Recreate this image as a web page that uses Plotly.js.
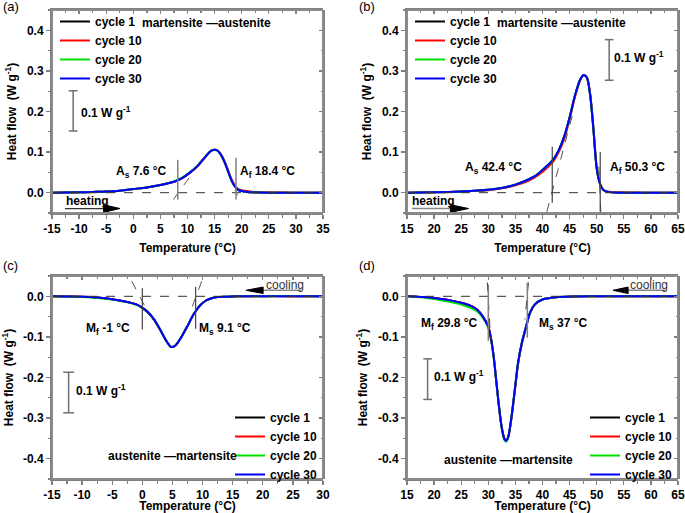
<!DOCTYPE html>
<html><head><meta charset="utf-8">
<script src="https://cdn.plot.ly/plotly-3.0.1.min.js"></script>
<style>html,body{margin:0;padding:0;background:#fff}#chart{width:685px;height:513px}</style>
</head><body><div id="chart"></div>
<script>
// ---------- DATA ----------
const seriesNames = ['cycle 1', 'cycle 10', 'cycle 20', 'cycle 30'];

// (a) heating
const tempA = [-15,-10,-7.5,-5,-2.5,0,2.5,5,7.5,9,10.5,12,13,14,14.5,15,15.5,16,16.5,17,17.5,18,18.5,19,19.5,20,21,22,25,30,35];
const heatA_c1  = [0,0.001,0.002,0.003,0.005,0.009,0.013,0.019,0.027,0.036,0.050,0.068,0.084,0.099,0.104,0.106,0.104,0.097,0.086,0.071,0.053,0.035,0.021,0.011,0.006,0.004,0.002,0.001,0,0,0];
const heatA_c10 = [0,0.001,0.002,0.003,0.005,0.009,0.013,0.019,0.027,0.036,0.049,0.067,0.083,0.098,0.104,0.106,0.105,0.098,0.087,0.072,0.055,0.037,0.023,0.013,0.008,0.006,0.004,0.002,0.001,0,0];
const heatA_c20 = [0,0.001,0.002,0.003,0.005,0.009,0.013,0.019,0.028,0.037,0.051,0.069,0.084,0.099,0.104,0.106,0.104,0.097,0.085,0.070,0.052,0.034,0.020,0.011,0.006,0.004,0.002,0.001,0,0,0];
const heatA_c30 = [0,0.001,0.002,0.003,0.005,0.009,0.013,0.019,0.027,0.036,0.050,0.068,0.084,0.099,0.104,0.106,0.104,0.097,0.085,0.070,0.052,0.034,0.020,0.011,0.006,0.004,0.002,0.001,0,0,0];

// (b) heating
const tempB = [15,20,25,30,33,35,37,38.5,40,41,42,43,44,45,46,47,47.6,48.2,48.8,49.4,50,50.6,51.2,52,55,60,65];
const heatB_c1  = [0,0.001,0.003,0.007,0.013,0.020,0.030,0.040,0.056,0.068,0.082,0.105,0.138,0.185,0.240,0.280,0.290,0.283,0.240,0.155,0.060,0.022,0.007,0.002,0,0,0];
const heatB_c10 = [0,0.001,0.003,0.006,0.012,0.018,0.027,0.037,0.051,0.063,0.077,0.100,0.132,0.180,0.236,0.278,0.289,0.284,0.243,0.160,0.063,0.024,0.008,0.003,0.001,0,0];
const heatB_c20 = [0,0.001,0.003,0.007,0.013,0.020,0.030,0.040,0.056,0.068,0.082,0.105,0.138,0.185,0.240,0.280,0.290,0.283,0.240,0.155,0.060,0.022,0.007,0.002,0,0,0];
const heatB_c30 = [0,0.001,0.003,0.007,0.013,0.020,0.030,0.040,0.056,0.068,0.082,0.105,0.138,0.185,0.240,0.280,0.290,0.283,0.240,0.155,0.060,0.022,0.007,0.002,0,0,0];

// (c) cooling
const tempC = [-15,-10,-7.5,-5,-2.5,-1,0,1,2,3,4,4.8,5.5,6.5,7.5,8.5,9.5,10.5,11.5,12.5,14,16,20,25,30];
const heatC_c1  = [0,-0.001,-0.003,-0.007,-0.014,-0.020,-0.029,-0.041,-0.059,-0.084,-0.110,-0.125,-0.121,-0.100,-0.073,-0.045,-0.024,-0.011,-0.005,-0.002,-0.001,0,0,0,0];
const heatC_c10 = [0,-0.001,-0.003,-0.007,-0.014,-0.020,-0.028,-0.040,-0.058,-0.083,-0.110,-0.125,-0.121,-0.100,-0.073,-0.045,-0.024,-0.011,-0.005,-0.002,-0.001,0,0.001,0,0];
const heatC_c20 = [0,-0.002,-0.004,-0.008,-0.015,-0.021,-0.028,-0.040,-0.058,-0.083,-0.110,-0.125,-0.121,-0.100,-0.073,-0.045,-0.024,-0.011,-0.005,-0.002,-0.001,0,0,0.001,0];
const heatC_c30 = [0,-0.001,-0.003,-0.007,-0.014,-0.020,-0.028,-0.040,-0.058,-0.083,-0.110,-0.125,-0.121,-0.100,-0.073,-0.045,-0.024,-0.011,-0.005,-0.002,-0.001,0,0,0,0];

// (d) cooling
const tempD = [15,18,21,23,25,27,28,29,30,30.5,31,31.5,32,32.5,33,33.3,33.7,34.3,34.9,35.5,36.2,37,37.7,38.6,40,43,50,65];
const heatD_c1  = [0.001,-0.002,-0.006,-0.010,-0.016,-0.025,-0.034,-0.050,-0.075,-0.105,-0.150,-0.213,-0.275,-0.325,-0.352,-0.356,-0.345,-0.295,-0.229,-0.163,-0.114,-0.073,-0.040,-0.020,-0.008,-0.002,0,0];
const heatD_c10 = [0.001,-0.002,-0.006,-0.010,-0.016,-0.025,-0.034,-0.050,-0.074,-0.103,-0.148,-0.211,-0.274,-0.325,-0.352,-0.356,-0.346,-0.298,-0.233,-0.167,-0.117,-0.075,-0.041,-0.020,-0.008,-0.002,0,0];
const heatD_c20 = [0,-0.003,-0.009,-0.014,-0.020,-0.030,-0.038,-0.053,-0.077,-0.106,-0.150,-0.213,-0.276,-0.327,-0.355,-0.358,-0.346,-0.295,-0.229,-0.163,-0.114,-0.073,-0.040,-0.020,-0.008,-0.002,0,0];
const heatD_c30 = [0,-0.002,-0.006,-0.010,-0.016,-0.025,-0.034,-0.050,-0.075,-0.105,-0.150,-0.213,-0.275,-0.325,-0.352,-0.356,-0.345,-0.295,-0.229,-0.163,-0.114,-0.073,-0.040,-0.020,-0.008,-0.002,0,0];

// tick labels
const xTickValsA = [-15,-10,-5,0,5,10,15,20,25,30,35];
const xTickTextA = ['-15','-10','-5','0','5','10','15','20','25','30','35'];
const xTickValsB = [15,20,25,30,35,40,45,50,55,60,65];
const xTickTextB = ['15','20','25','30','35','40','45','50','55','60','65'];
const xTickValsC = [-15,-10,-5,0,5,10,15,20,25,30];
const xTickTextC = ['-15','-10','-5','0','5','10','15','20','25','30'];
const yTickValsTop = [0,0.1,0.2,0.3,0.4];
const yTickTextTop = ['0.0','0.1','0.2','0.3','0.4'];
const yTickValsBot = [-0.4,-0.3,-0.2,-0.1,0];
const yTickTextBot = ['-0.4','-0.3','-0.2','-0.1','0.0'];

// ---------- STYLE ----------
const FONT = 'Liberation Sans, Arial, sans-serif';
const AX = '#808080';
const colors = ['#000000', '#ff0000', '#00e000', '#0000ff'];
const boldFont = {family: FONT, size: 12, color: '#000', weight: 'bold'};

const panels = [
  {t: tempA, ys: [heatA_c1, heatA_c10, heatA_c20, heatA_c30], n: ''},
  {t: tempB, ys: [heatB_c1, heatB_c10, heatB_c20, heatB_c30], n: '2'},
  {t: tempC, ys: [heatC_c1, heatC_c10, heatC_c20, heatC_c30], n: '3'},
  {t: tempD, ys: [heatD_c1, heatD_c10, heatD_c20, heatD_c30], n: '4'}
];

const traces = [];
panels.forEach((p, pi) => {
  p.ys.forEach((y, si) => {
    traces.push({
      type: 'scatter', mode: 'lines', x: p.t, y: y, name: seriesNames[si],
      xaxis: 'x' + p.n, yaxis: 'y' + p.n,
      legend: pi === 0 ? 'legend' : 'legend' + (pi + 1),
      line: {color: colors[si], width: 2, shape: 'spline', smoothing: 0.8},
      hoverinfo: 'skip'
    });
  });
  // non-drawing traces that register the frame axes (top / right, inward ticks)
  traces.push({type: 'scatter', mode: 'none', x: [p.t[0]], y: [0], xaxis: 'x' + (5 + pi), yaxis: 'y' + p.n, showlegend: false, hoverinfo: 'skip'});
  traces.push({type: 'scatter', mode: 'none', x: [p.t[0]], y: [0], xaxis: 'x' + p.n, yaxis: 'y' + (5 + pi), showlegend: false, hoverinfo: 'skip'});
});

function mainX(domain, range, vals, text, anchor) {
  return {domain, range, anchor, tickmode: 'array', tickvals: vals, ticktext: text,
    ticks: 'outside', ticklen: 4, tickwidth: 1.3, tickcolor: AX,
    showline: true, linecolor: AX, linewidth: 2, showgrid: false, zeroline: false,
    tickfont: boldFont,
    minor: {ticks: 'outside', ticklen: 2.5, tickwidth: 1.3, tickcolor: AX, tick0: 0, dtick: 2.5, showgrid: false},
    title: {text: 'Temperature (°C)', font: boldFont, standoff: 8},
    automargin: false, fixedrange: true};
}
function mainY(domain, range, vals, text, anchor) {
  return {domain, range, anchor, tickmode: 'array', tickvals: vals, ticktext: text,
    ticks: 'outside', ticklen: 4, tickwidth: 1.3, tickcolor: AX,
    showline: true, linecolor: AX, linewidth: 2, showgrid: false, zeroline: false,
    tickfont: boldFont,
    minor: {ticks: 'outside', ticklen: 2.5, tickwidth: 1.3, tickcolor: AX, tick0: 0, dtick: 0.05, showgrid: false},
    title: {text: 'Heat flow  (W g<sup>-1</sup>)', font: boldFont, standoff: 8},
    automargin: false, fixedrange: true};
}
function topX(domain, range, anchor) {
  return {domain, side: 'top', anchor, range, tickmode: 'linear', tick0: 0, dtick: 5,
    ticks: 'inside', ticklen: 4, tickwidth: 1.3, tickcolor: AX, showticklabels: false,
    showline: true, linecolor: AX, linewidth: 2, showgrid: false, zeroline: false,
    minor: {ticks: 'inside', ticklen: 2.5, tickwidth: 1.3, tickcolor: AX, tick0: 0, dtick: 2.5, showgrid: false},
    fixedrange: true};
}
function rightY(domain, range, anchor) {
  return {domain, side: 'right', anchor, range, tickmode: 'linear', tick0: 0, dtick: 0.1,
    ticks: 'inside', ticklen: 4, tickwidth: 1.3, tickcolor: AX, showticklabels: false,
    showline: true, linecolor: AX, linewidth: 2, showgrid: false, zeroline: false,
    minor: {ticks: 'inside', ticklen: 2.5, tickwidth: 1.3, tickcolor: AX, tick0: 0, dtick: 0.05, showgrid: false},
    fixedrange: true};
}

const dxL = [52/685, 323/685], dxR = [407/685, 678/685];
const dyT = [300/513, 503/513], dyB = [34/513, 237/513];
const rA = [-15, 35], rB = [15, 65], rC = [-15, 30], rD = [15, 65];
const ryT = [-0.05, 0.45], ryB = [-0.45, 0.05];

function ln(xr, yr, x0, y0, x1, y1, color, width, dash) {
  return {type: 'line', xref: xr, yref: yr, x0, y0, x1, y1, line: {color, width, dash: dash || 'solid'}};
}
function tri(xr, yr, xb, xt, yc, h) {
  return {type: 'path', xref: xr, yref: yr, path: `M ${xb},${yc + h} L ${xt},${yc} L ${xb},${yc - h} Z`,
    fillcolor: '#000', line: {color: '#000', width: 1}};
}
function scaleBar(xr, yr, x, y0, y1, cw) {
  return [ln(xr, yr, x, y0, x, y1, '#707070', 1.5), ln(xr, yr, x - cw, y0, x + cw, y0, '#707070', 1.5), ln(xr, yr, x - cw, y1, x + cw, y1, '#707070', 1.5)];
}
// panel frames: four line shapes in paper coordinates
function frame(dx, dy) {
  const s = (x0, y0, x1, y1) => Object.assign(ln('paper', 'paper', x0, y0, x1, y1, '#8a8a8a', 2), {layer: 'above'});
  return [s(dx[0], dy[0], dx[1], dy[0]), s(dx[0], dy[1], dx[1], dy[1]), s(dx[0], dy[0], dx[0], dy[1]), s(dx[1], dy[0], dx[1], dy[1])];
}
const DG = '#333333', VG = '#808080';
const shapes = [
  // (a)
  ln('x','y',-15,0,35,0,DG,1,'dash'),
  ln('x','y',7.38,-0.017,11.4,0.057,'#555',1,'dash'),
  ln('x','y',18.8,0.015,19.4,-0.02,'#555',1,'dash'),
  ln('x','y',8.2,-0.017,8.2,0.081,VG,1.5),
  ln('x','y',18.95,-0.017,18.95,0.086,VG,1.5),
  ...scaleBar('x','y',-11.1,0.152,0.251,0.8),
  ln('x','y',-12.6,-0.039,-5.5,-0.039,DG,1.2),
  tri('x','y',-5.5,-2.45,-0.039,0.0095),
  // (b)
  ln('x2','y2',15,0,65,0,DG,1,'dash'),
  ln('x2','y2',40.8,-0.047,45.7,0.2,'#555',1,'dash'),
  ln('x2','y2',50.4,0.064,50.77,-0.05,'#555',1,'dash'),
  ln('x2','y2',41.8,-0.025,41.8,0.113,'#444',1.2),
  ln('x2','y2',50.65,-0.047,50.65,0.1,'#444',1.2),
  ...scaleBar('x2','y2',52.3,0.277,0.377,0.8),
  ln('x2','y2',15.9,-0.039,23.0,-0.039,'#888',1.5),
  tri('x2','y2',23.0,26.35,-0.039,0.0095),
  // (c)
  ln('x3','y3',-15,0,30,0,DG,1,'dash'),
  ln('x3','y3',-1.75,0.037,1.0,-0.041,'#555',1,'dash'),
  ln('x3','y3',9.85,0.037,7.9,-0.041,'#555',1,'dash'),
  ln('x3','y3',0.0,0.02,0.0,-0.082,'#444',1.2),
  ln('x3','y3',8.85,0.023,8.85,-0.08,'#444',1.2),
  ...scaleBar('x3','y3',-12.24,-0.187,-0.287,0.9),
  ln('x3','y3',20.06,0.0148,26.4,0.0148,'#888',1.5),
  tri('x3','y3',20.06,17.2,0.0148,0.008),
  // (d)
  ln('x4','y4',15,0,65,0,DG,1,'dash'),
  ln('x4','y4',29.82,0.034,30.44,-0.106,'#333',1,'dash'),
  ln('x4','y4',37.4,0.034,36.77,-0.057,'#333',1,'dash'),
  ln('x4','y4',30.0,0.029,30.0,-0.11,VG,1.5),
  ln('x4','y4',37.2,0.034,37.2,-0.102,VG,1.5),
  ...scaleBar('x4','y4',18.8,-0.154,-0.254,0.8),
  ln('x4','y4',55.8,0.0148,62.7,0.0148,'#888',1.5),
  tri('x4','y4',55.8,53.0,0.0148,0.008),
  // frames
  ...frame(dxL, dyT), ...frame(dxR, dyT), ...frame(dxL, dyB), ...frame(dxR, dyB)
];

function ann(xr, yr, x, y, text, xanchor, opts) {
  return Object.assign({xref: xr, yref: yr, x, y, text, xanchor: xanchor || 'center', yanchor: 'middle',
    showarrow: false, font: boldFont}, opts || {});
}
const regFont = {family: FONT, size: 13, color: '#000'};
const coolFont = {family: FONT, size: 12, color: '#333'};
const annotations = [
  // panel letters
  ann('paper','paper',0.002,0.987,'(a)','left',{font: regFont}),
  ann('paper','paper',357/685,0.987,'(b)','left',{font: regFont}),
  ann('paper','paper',0.002,1-265/513,'(c)','left',{font: regFont}),
  ann('paper','paper',357/685,1-265/513,'(d)','left',{font: regFont}),
  // (a)
  ann('x','y',13.5,0.418,'martensite —austenite'),
  ann('x','y',6.4,0.052,'A<sub>s</sub> 7.6 °C','right'),
  ann('x','y',19.3,0.052,'A<sub>f</sub> 18.4 °C','left'),
  ann('x','y',-9.96,0.2,'0.1 W g<sup>-1</sup>','left'),
  ann('x','y',-12.7,-0.021,'heating','left'),
  // (b)
  ann('x2','y2',43.5,0.418,'martensite —austenite'),
  ann('x2','y2',36.5,0.06,'A<sub>s</sub> 42.4 °C','right'),
  ann('x2','y2',52.1,0.06,'A<sub>f</sub> 50.3 °C','left'),
  ann('x2','y2',52.9,0.335,'0.1 W g<sup>-1</sup>','left'),
  ann('x2','y2',15.5,-0.021,'heating','left'),
  // (c)
  ann('x3','y3',5.0,-0.393,'austenite —martensite'),
  ann('x3','y3',-1.75,-0.08,'M<sub>f</sub> -1 °C','right'),
  ann('x3','y3',9.0,-0.08,'M<sub>s</sub> 9.1 °C','left'),
  ann('x3','y3',-11.4,-0.23,'0.1 W g<sup>-1</sup>','left'),
  ann('x3','y3',20.2,0.029,'cooling','left',{font: coolFont}),
  // (d)
  ann('x4','y4',33.7,-0.402,'austenite —martensite'),
  ann('x4','y4',28.5,-0.068,'M<sub>f</sub> 29.8 °C','right'),
  ann('x4','y4',38.9,-0.068,'M<sub>s</sub> 37 °C','left'),
  ann('x4','y4',19.6,-0.197,'0.1 W g<sup>-1</sup>','left'),
  ann('x4','y4',55.8,0.029,'cooling','left',{font: coolFont})
];

function leg(x, y, yanchor) {
  return {x, y, xanchor: 'left', yanchor, xref: 'paper', yref: 'paper', bgcolor: 'rgba(0,0,0,0)',
    borderwidth: 0, font: boldFont, itemwidth: 30, tracegroupgap: 0};
}

const layout = {
  width: 685, height: 513, margin: {l: 0, r: 0, t: 0, b: 0},
  paper_bgcolor: '#fff', plot_bgcolor: 'rgba(0,0,0,0)',
  showlegend: true,
  xaxis: mainX(dxL, rA, xTickValsA, xTickTextA, 'y'),
  yaxis: mainY(dyT, ryT, yTickValsTop, yTickTextTop, 'x'),
  xaxis2: mainX(dxR, rB, xTickValsB, xTickTextB, 'y2'),
  yaxis2: mainY(dyT, ryT, yTickValsTop, yTickTextTop, 'x2'),
  xaxis3: mainX(dxL, rC, xTickValsC, xTickTextC, 'y3'),
  yaxis3: mainY(dyB, ryB, yTickValsBot, yTickTextBot, 'x3'),
  xaxis4: mainX(dxR, rD, xTickValsB, xTickTextB, 'y4'),
  yaxis4: mainY(dyB, ryB, yTickValsBot, yTickTextBot, 'x4'),
  xaxis5: topX(dxL, rA, 'y'), yaxis5: rightY(dyT, ryT, 'x'),
  xaxis6: topX(dxR, rB, 'y2'), yaxis6: rightY(dyT, ryT, 'x2'),
  xaxis7: topX(dxL, rC, 'y3'), yaxis7: rightY(dyB, ryB, 'x3'),
  xaxis8: topX(dxR, rD, 'y4'), yaxis8: rightY(dyB, ryB, 'x4'),
  legend: leg(55/685, 1 - 7/513, 'top'),
  legend2: leg(410/685, 1 - 7/513, 'top'),
  legend3: leg(230/685, (513 - 489)/513, 'bottom'),
  legend4: leg(585/685, (513 - 489)/513, 'bottom'),
  shapes, annotations
};

Plotly.newPlot('chart', traces, layout, {staticPlot: true, displayModeBar: false});
</script></body></html>
